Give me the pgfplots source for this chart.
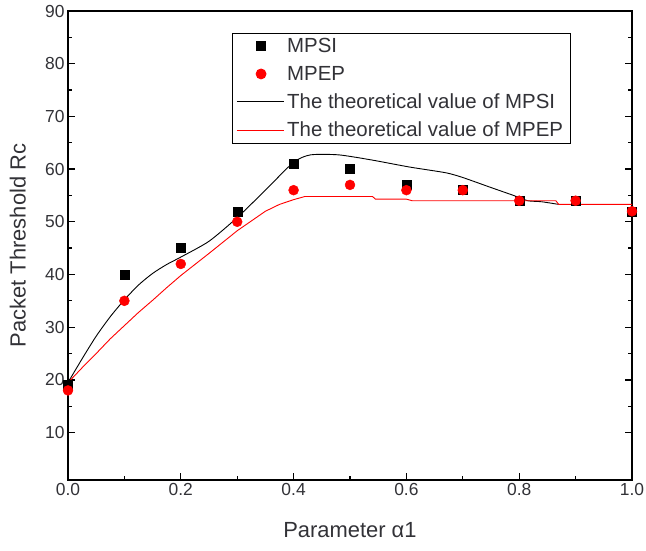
\documentclass[border=0pt]{standalone}
\usepackage{fontspec}
\setmainfont{Liberation Sans}
\usepackage{pgfplots}
\pgfplotsset{compat=1.18}
\definecolor{txt}{RGB}{50,50,55}
\pgfplotsset{
  linelegend/.style={legend image code/.code={\draw[##1] (0cm,0cm) -- (1.65cm,0cm);}},
  marklegend/.style={legend image code/.code={\draw[##1] plot coordinates {(0.85cm,0cm)};}},
}
\begin{document}
\begin{tikzpicture}
\useasboundingbox (-68bp,-71bp) rectangle (578bp,480bp);
\begin{axis}[
  at={(0,0)}, anchor=south west,
  scale only axis, width=564bp, height=469bp,
  xmin=0, xmax=1, ymin=1, ymax=90,
  xtick={0,0.2,0.4,0.6,0.8,1.0},
  ytick={10,20,30,40,50,60,70,80,90},
  minor x tick num=1, minor y tick num=1,
  xtick pos=bottom, ytick pos=both,
  tick align=inside,
  major tick length=7bp, minor tick length=4bp,
  every tick/.style={black, line width=1.3bp},
  axis line style={line width=1.8bp},
  x tick label style={/pgf/number format/.cd, fixed, fixed zerofill, precision=1},
  /pgf/number format/assume math mode=true,
  tick label style={font=\fontsize{17.5}{20}\selectfont, text=txt},
  xlabel={Parameter α1},
  ylabel={Packet Threshold Rc},
  label style={font=\fontsize{22}{26}\selectfont, text=txt},
  xlabel style={at={(axis description cs:0.5,-0.107)}, anchor=center},
  ylabel style={at={(axis description cs:-0.089,0.5)}, anchor=center},
  legend style={at={(0.291,0.953)}, anchor=north west, draw=black, line width=0.8bp,
    font=\fontsize{20.5}{24}\selectfont, text=txt, row sep=8bp, inner xsep=4bp, inner ysep=3bp,
    nodes={inner xsep=3bp}},
  legend cell align=left,
]
\addplot[only marks, mark=square*, mark size=4.5bp, black, marklegend]
  coordinates {(0,19) (0.1,40) (0.2,45) (0.3,52) (0.4,61) (0.5,60) (0.6,57) (0.7,56) (0.8,54) (0.9,54) (1.0,52)};
\addlegendentry{MPSI}
\addplot[only marks, mark=*, mark size=5bp, red, marklegend]
  coordinates {(0,18) (0.1,35) (0.2,42) (0.3,50) (0.4,56) (0.5,57) (0.6,56) (0.7,56) (0.8,54) (0.9,54) (1.0,52)};
\addlegendentry{MPEP}
\addplot[black, line width=0.9bp, smooth, tension=0.4, linelegend]
  coordinates {(0,19.5) (0.025,24) (0.05,28.3) (0.075,32) (0.1,35.2) (0.125,38) (0.15,40.2) (0.175,41.9) (0.2,43.3) (0.25,46.3) (0.3,50.8) (0.35,56) (0.4,61.3) (0.43,62.7) (0.48,62.7) (0.54,61.7) (0.605,60.4) (0.67,59.3) (0.7,58.4) (0.75,56.5) (0.79,55) (0.815,54) (0.84,53.8) (0.87,53.3)};
\addlegendentry{The theoretical value of MPSI}
\addplot[red, line width=0.9bp, linelegend]
  coordinates {(0,19.5) (0.01,20.6) (0.025,22.3) (0.05,25) (0.075,27.8) (0.1,30.3) (0.125,32.8) (0.15,35.1) (0.175,37.5) (0.2,39.8) (0.25,44) (0.3,48.3) (0.35,52) (0.375,53.3) (0.4,54.2) (0.42,54.8) (0.54,54.8) (0.545,54.3) (0.6,54.3) (0.61,54) (0.865,54) (0.87,53.3) (1.0,53.3)};
\addlegendentry{The theoretical value of MPEP}
\end{axis}
\end{tikzpicture}
\end{document}
